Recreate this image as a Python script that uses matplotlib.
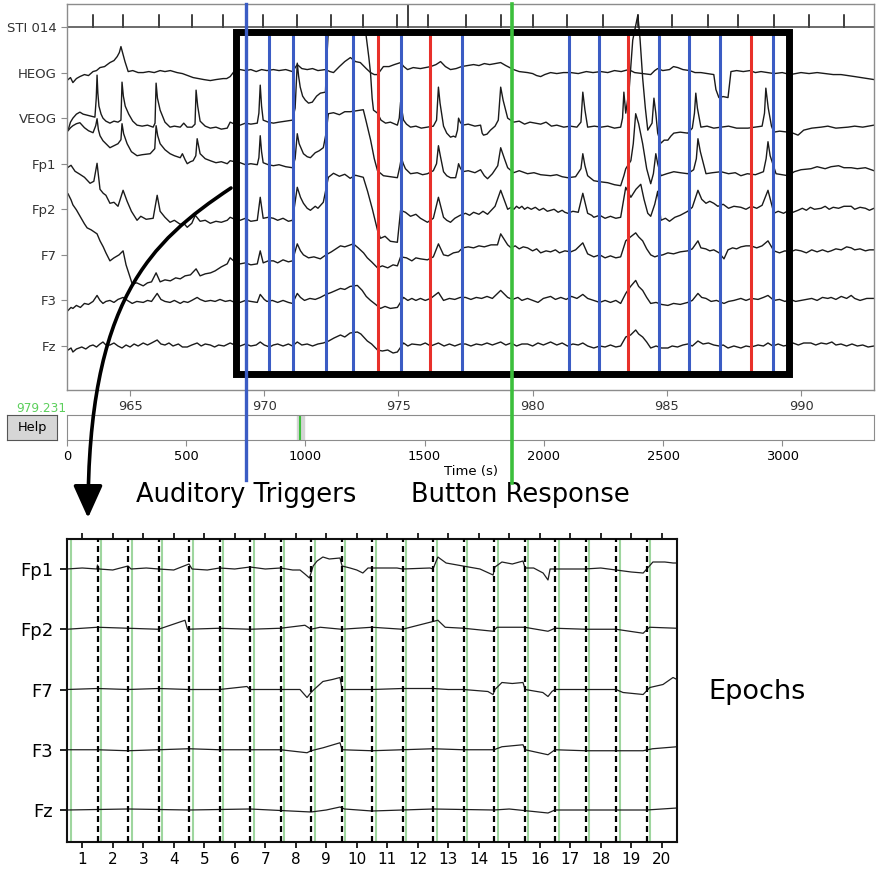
import numpy as np
import matplotlib
matplotlib.use("Agg")
import matplotlib.pyplot as plt
from matplotlib.patches import Rectangle, FancyArrowPatch
from matplotlib.path import Path
from matplotlib.lines import Line2D
import matplotlib.transforms as mtransforms

plt.rcParams['font.family'] = ['DejaVu Sans']

# ------------------------------------------------------------------ data
raw_channels = ['STI 014', 'HEOG', 'VEOG', 'Fp1', 'Fp2', 'F7', 'F3', 'Fz']
raw_xticks = [965, 970, 975, 980, 985, 990]
raw_window = (962.65, 992.72)
scroll_ticks = [0, 500, 1000, 1500, 2000, 2500, 3000]
scroll_total = 3385
current_time = 979.231

sti_events = [963.62, 964.74, 966.08, 967.31, 968.47, 969.96, 971.23, 972.50,
              973.69, 974.93, 975.34, 976.12, 977.50, 978.81, 980.00, 981.27,
              982.61, 983.92, 985.19, 986.53, 987.65, 988.99, 990.30, 991.60]
sti_heights = [12, 12, 12, 12, 12, 12, 12, 12,
               12, 12, 23, 12, 12, 12, 12, 12,
               12, 12, 12, 12, 12, 12, 12, 12]

auditory_triggers = [969.33, 970.19, 971.08, 972.31, 973.32, 975.11, 977.35,
                     981.34, 982.46, 984.70, 985.82, 986.98, 988.96]
other_triggers = [974.22, 976.16, 983.54, 988.13]
button_response = 979.231

# (time s, amplitude) knots for each raw channel, amplitude up = positive
heog = [(962.69, -7), (962.78, -5), (962.87, -10), (963.0, -6), (963.13, -4), (963.3, -2),
        (963.45, -3), (963.62, 1), (963.75, 2), (963.88, 5), (964.05, 6), (964.25, 10),
        (964.4, 12), (964.52, 16), (964.6, 20), (964.66, 26), (964.74, 18), (964.81, 11),
        (964.93, 1), (965.1, 2), (965.3, 0), (965.49, 0), (965.7, 1), (965.9, 0), (966.12, 2),
        (966.3, 1), (966.5, 2), (966.75, 0), (966.95, -1), (967.15, -3), (967.35, -5),
        (967.55, -6), (967.75, -7), (967.99, -8), (968.2, -7), (968.47, -6), (968.6, -6),
        (968.73, -4), (968.9, 2), (969.10, 3), (969.3, 2), (969.5, 3), (969.7, 1), (969.9, 3),
        (970.1, 2), (970.34, 3), (970.55, 2), (970.8, 3), (971.05, 1), (971.23, 8), (971.4, 4),
        (971.60, 3), (971.8, 4), (972.0, 2), (972.28, 3), (972.45, 1), (972.58, 0), (972.8, 6),
        (973.0, 11), (973.21, 15), (973.4, 11), (973.58, 10), (973.8, 4), (973.96, 0),
        (974.1, -2), (974.22, -2), (974.44, 6), (974.65, 6), (974.85, 8), (975.08, 10),
        (975.2, 6), (975.34, 3), (975.55, 5), (975.82, 4), (976.0, 5), (976.2, 6), (976.4, 8),
        (976.57, 11), (976.75, 6), (976.94, 3), (977.15, 4), (977.35, 6), (977.58, 7),
        (977.8, 8), (978.0, 7), (978.2, 9), (978.4, 8), (978.6, 9), (978.81, 10), (979.0, 7),
        (979.29, 3), (979.5, 1), (979.81, 0), (980.0, -1), (980.15, -3), (980.30, -4),
        (980.45, -2), (980.67, 0), (980.9, -1), (981.15, 0), (981.42, 0), (981.7, -1),
        (982.0, 1), (982.25, 0), (982.54, 1), (982.8, 0), (983.05, 2), (983.3, 1), (983.58, 3),
        (983.8, 0), (984.1, -1), (984.40, -2), (984.55, 2), (984.66, 4), (984.85, 2),
        (985.1, 3), (985.25, 6), (985.41, 5), (985.6, 3), (985.85, 2), (986.05, 0),
        (986.27, 0), (986.5, -1), (986.75, -2), (986.83, -17), (986.94, -25), (987.1, -24),
        (987.28, -25), (987.39, 1), (987.6, 2), (987.85, 1), (988.1, 2), (988.3, 0),
        (988.51, 1), (988.75, 0), (989.0, -1), (989.3, 0), (989.6, -2), (990.00, 0),
        (990.3, -1), (990.6, 0), (990.9, -1), (991.2, -2), (991.49, -2), (991.75, -3),
        (992.0, -4), (992.24, -5), (992.5, -6), (992.72, -7)]

veog = [(962.69, -12), (962.78, -4), (962.87, 0), (963.0, 4), (963.13, 6), (963.25, 4),
        (963.40, 3), (963.55, 2), (963.69, 1), (963.74, 20), (963.77, 43), (963.80, 25),
        (963.84, 12), (963.92, 4), (963.99, 0), (964.1, -3), (964.25, -5), (964.4, -3),
        (964.55, -4), (964.66, -2), (964.70, 36), (964.75, 22), (964.82, 12), (964.95, 4),
        (965.1, -3), (965.26, -7), (965.45, -8), (965.65, -7), (965.86, -9), (965.93, -5),
        (965.97, 35), (966.02, 20), (966.12, 8), (966.3, -4), (966.49, -9), (966.65, -8),
        (966.87, -9), (967.00, -5), (967.13, -9), (967.31, -9), (967.42, -6), (967.46, 28),
        (967.52, 12), (967.61, -3), (967.8, -8), (967.99, -10), (968.2, -9), (968.4, -11),
        (968.62, -10), (968.73, -4), (968.9, -6), (969.10, -7), (969.3, -5), (969.5, -6),
        (969.74, -5), (969.80, 5), (969.85, 33), (969.90, 12), (969.96, -2), (970.15, -4),
        (970.34, -5), (970.55, -4), (970.8, -3), (971.05, -2), (971.15, 10), (971.23, 55),
        (971.28, 42), (971.34, 31), (971.43, 22), (971.53, 18), (971.65, 15), (971.79, 16),
        (971.95, 22), (972.09, 25), (972.28, 26), (972.33, 60), (972.39, 88), (973.77, 88),
        (973.90, 60), (973.96, 45), (974.02, 20), (974.07, 8), (974.22, 5), (974.35, -2),
        (974.52, -5), (974.7, -4), (974.96, -7), (975.03, 0), (975.08, 16), (975.13, 8),
        (975.19, -2), (975.3, -6), (975.45, -9), (975.65, -8), (975.85, -10), (976.08, -9),
        (976.3, -8), (976.42, -2), (976.49, 31), (976.55, 15), (976.68, -8), (976.8, -15),
        (976.94, -19), (977.05, -18), (977.13, -19), (977.2, -12), (977.24, 0), (977.3, -4),
        (977.39, -7), (977.6, -6), (977.85, -8), (978.06, -7), (978.12, -15), (978.17, -17),
        (978.3, -16), (978.43, -12), (978.6, -8), (978.72, -2), (978.81, 31), (978.9, 18),
        (979.07, 0), (979.29, -4), (979.5, -3), (979.7, -6), (979.9, -4), (980.1, -5),
        (980.30, -6), (980.5, -4), (980.7, -8), (980.9, -7), (981.16, -9), (981.4, -8),
        (981.65, -9), (981.80, -4), (981.87, 26), (981.95, 8), (982.05, -9), (982.3, -8),
        (982.55, -9), (982.8, -8), (983.05, -10), (983.28, -9), (983.35, 0), (983.40, 26),
        (983.47, 5), (983.6, 30), (983.73, 78), (983.92, 103), (984.0, 80), (984.10, 40),
        (984.2, 10), (984.29, -12), (984.45, -5), (984.52, 20), (984.59, 5), (984.66, -15),
        (984.78, -25), (984.9, -22), (985.04, -22), (985.15, -18), (985.26, -15), (985.5, -14),
        (985.78, -15), (985.95, -10), (986.03, 5), (986.08, 25), (986.14, 10), (986.27, -9),
        (986.5, -8), (986.75, -10), (987.02, -9), (987.3, -8), (987.6, -10), (988.02, -10),
        (988.3, -9), (988.55, -8), (988.64, 5), (988.69, 30), (988.78, 10), (988.90, -8),
        (988.99, -14), (989.2, -13), (989.52, -14), (989.7, -15), (989.89, -17), (990.1, -12),
        (990.4, -10), (990.75, -9), (991.0, -8), (991.3, -10), (991.75, -9), (992.0, -8),
        (992.3, -9), (992.72, -7)]

fp1 = [(962.69, 33), (962.78, 36), (962.87, 38), (963.0, 40), (963.13, 41), (963.3, 36),
       (963.45, 33), (963.62, 31), (963.72, 38), (963.77, 45), (963.82, 34), (963.88, 28),
       (963.99, 23), (964.1, 20), (964.25, 16), (964.4, 18), (964.55, 20), (964.66, 24),
       (964.70, 40), (964.76, 30), (964.89, 20), (965.05, 12), (965.26, 8), (965.45, 9),
       (965.75, 10), (965.92, 15), (965.97, 38), (966.03, 28), (966.12, 20), (966.3, 14),
       (966.49, 10), (966.65, 8), (966.87, 6), (966.95, 10), (967.05, 4), (967.13, 0),
       (967.25, 2), (967.35, 3), (967.45, 8), (967.50, 25), (967.55, 18), (967.61, 10),
       (967.8, 5), (967.99, 3), (968.2, 1), (968.4, 2), (968.62, 0), (968.73, 3), (968.9, 2),
       (969.10, 1), (969.3, -1), (969.5, 0), (969.74, -1), (969.80, 6), (969.85, 28),
       (969.90, 12), (969.96, 1), (970.15, -1), (970.34, -2), (970.55, -1), (970.8, -3),
       (971.05, -4), (971.15, 5), (971.23, 30), (971.3, 20), (971.46, 10), (971.6, 7),
       (971.72, 6), (971.9, 11), (972.05, 13), (972.20, 16), (972.30, 30), (972.39, 50),
       (972.58, 51), (972.8, 49), (973.0, 52), (973.21, 52), (973.45, 53), (973.69, 54),
       (973.80, 42), (973.96, 24), (974.1, 5), (974.22, -7), (974.44, -12), (974.7, -13),
       (974.96, -14), (975.05, -3), (975.11, 6), (975.18, 0), (975.26, -5), (975.45, -10),
       (975.7, -9), (975.9, -11), (976.08, -10), (976.3, -7), (976.42, 0), (976.49, 18),
       (976.56, 8), (976.68, -8), (976.8, -12), (976.94, -14), (977.13, -14), (977.2, -6),
       (977.24, 0), (977.3, -4), (977.39, -8), (977.6, -7), (977.85, -9), (978.06, -6),
       (978.2, -12), (978.32, -15), (978.5, -10), (978.7, -2), (978.81, 16), (978.95, 5),
       (979.07, -4), (979.29, -9), (979.5, -7), (979.81, -10), (980.05, -9), (980.3, -11),
       (980.67, -12), (980.9, -11), (981.1, -13), (981.31, -14), (981.6, -13), (981.80, -5),
       (981.87, 10), (981.95, -2), (982.05, -12), (982.28, -17), (982.5, -18), (982.8, -19),
       (983.05, -21), (983.28, -22), (983.40, -12), (983.47, -5), (983.66, 3), (983.75, 20),
       (983.84, 50), (983.95, 40), (984.10, 20), (984.25, -5), (984.40, -20), (984.5, -10),
       (984.59, 10), (984.66, 0), (984.78, -12), (985.0, -10), (985.26, -8), (985.5, -9),
       (985.78, -10), (986.0, -6), (986.10, 5), (986.16, 25), (986.25, 12), (986.46, -10),
       (986.7, -9), (987.02, -8), (987.3, -10), (987.55, -9), (987.76, -12), (988.0, -10),
       (988.3, -11), (988.6, -8), (988.70, 5), (988.77, 22), (988.85, 8), (989.07, -10),
       (989.3, -11), (989.52, -12), (989.75, -8), (990.0, -6), (990.37, -5), (990.6, -3),
       (990.9, -5), (991.12, -3), (991.4, -2), (991.6, -4), (991.87, -4), (992.1, -5),
       (992.4, -4), (992.72, -7)]

fp2 = [(962.69, 42), (962.8, 44), (962.95, 38), (963.13, 35), (963.3, 32), (963.51, 26),
       (963.65, 28), (963.77, 46), (963.88, 20), (964.0, 16), (964.1, 14), (964.25, 6),
       (964.4, 7), (964.55, 3), (964.74, 19), (964.89, 8), (965.05, -2), (965.26, -11),
       (965.4, -7), (965.6, -10), (965.86, -9), (966.01, 14), (966.12, -2), (966.3, -8),
       (966.49, -13), (966.65, -11), (966.87, -15), (967.0, -14), (967.13, -18), (967.3, -14),
       (967.43, -6), (967.61, -12), (967.8, -11), (967.99, -14), (968.2, -12), (968.4, -13),
       (968.62, -11), (968.73, -8), (968.9, -10), (969.10, -11), (969.3, -9), (969.5, -12),
       (969.74, -11), (969.85, 12), (969.96, -9), (970.15, -8), (970.34, -9), (970.5, -11),
       (970.7, -9), (970.9, -12), (971.05, -11), (971.23, 22), (971.35, 12), (971.46, 6),
       (971.6, 1), (971.72, -1), (971.9, 3), (972.0, 1), (972.20, 7), (972.39, 32),
       (972.58, 36), (972.8, 33), (973.0, 35), (973.2, 31), (973.4, 34), (973.69, 32),
       (973.85, 18), (974.03, 0), (974.22, -21), (974.33, -29), (974.5, -27), (974.7, -32),
       (974.96, -33), (975.08, -1), (975.26, -3), (975.45, -7), (975.65, -5), (975.82, -9),
       (976.08, -13), (976.3, -9), (976.49, 12), (976.68, -8), (976.8, -11), (976.94, -13),
       (977.1, -9), (977.3, -6), (977.5, -4), (977.65, -6), (977.80, -3), (978.0, -5),
       (978.15, -2), (978.32, -5), (978.6, 3), (978.81, 19), (979.07, 0), (979.2, 2),
       (979.3, 0), (979.4, 3), (979.5, 1), (979.6, 3), (979.7, 0), (979.81, 2),
       (979.95, 0), (980.1, 2), (980.25, -1), (980.4, 1), (980.55, -2), (980.67, -1),
       (980.8, 0), (980.95, -3), (981.1, -1), (981.2, -3), (981.31, -4), (981.5, -2),
       (981.7, -3), (981.87, 16), (982.05, -4), (982.2, -6), (982.28, -8), (982.5, -6),
       (982.7, -9), (982.9, -7), (983.1, -9), (983.28, -8), (983.47, 22), (983.66, 12),
       (983.85, 20), (984.03, 25), (984.15, 10), (984.29, -4), (984.40, -7), (984.55, 5),
       (984.66, 18), (984.78, -11), (984.95, -9), (985.1, -12), (985.3, -8), (985.5, -6),
       (985.78, -2), (985.95, 2), (986.16, 19), (986.3, 10), (986.46, 6), (986.6, 8),
       (986.75, 6), (986.9, 3), (987.1, 5), (987.3, 1), (987.5, 3), (987.76, 2), (987.95, 0),
       (988.15, 3), (988.35, 1), (988.55, 4), (988.77, 19), (988.99, -4), (989.15, -2),
       (989.35, -4), (989.55, -1), (989.7, -3), (989.89, -1), (990.05, 1), (990.2, -1),
       (990.35, 2), (990.5, 0), (990.75, 1), (990.9, 3), (991.05, 0), (991.2, 2), (991.4, 1),
       (991.6, 3), (991.87, 3), (992.0, 0), (992.2, 2), (992.4, 1), (992.55, -1), (992.72, 1)]

f7 = [(962.69, 61), (962.8, 55), (962.87, 50), (963.0, 45), (963.15, 38), (963.3, 31),
      (963.40, 27), (963.55, 25), (963.77, 21), (963.88, 14), (964.0, 8), (964.1, 2),
      (964.25, -6), (964.4, -3), (964.59, 0), (964.74, 4), (964.85, -10), (965.08, -29),
      (965.25, -28), (965.49, -31), (965.65, -28), (965.8, -27), (965.97, -18), (966.12, -27),
      (966.3, -25), (966.5, -26), (966.7, -23), (966.87, -24), (967.05, -21), (967.25, -20),
      (967.46, -14), (967.61, -21), (967.8, -19), (968.0, -18), (968.17, -16), (968.4, -12),
      (968.62, -9), (968.73, -3), (968.9, -7), (969.10, -9), (969.3, -8), (969.5, -10),
      (969.74, -9), (969.85, 4), (969.96, -8), (970.15, -6), (970.34, -6), (970.5, -8),
      (970.7, -5), (970.9, -7), (971.05, -6), (971.23, 11), (971.35, 4), (971.46, 0),
      (971.65, -3), (971.85, -2), (972.09, -4), (972.3, 0), (972.5, 3), (972.84, 9),
      (973.0, 8), (973.32, 11), (973.5, 7), (973.7, 2), (973.84, -3), (974.0, -7),
      (974.22, -13), (974.4, -11), (974.6, -13), (974.8, -10), (974.96, -11), (975.08, -2),
      (975.3, -3), (975.5, -6), (975.65, -3), (975.82, -4), (976.08, -5), (976.3, -2),
      (976.49, 11), (976.68, 0), (976.85, -1), (977.05, 2), (977.24, 3), (977.39, 7),
      (977.6, 8), (977.8, 7), (978.0, 9), (978.2, 8), (978.45, 10), (978.69, 10),
      (978.81, 21), (979.07, 10), (979.2, 7), (979.35, 9), (979.5, 6), (979.65, 8),
      (979.81, 7), (980.0, 4), (980.15, 6), (980.3, 2), (980.5, 4), (980.67, 3), (980.85, 5),
      (981.0, 2), (981.2, 4), (981.42, 3), (981.6, 5), (981.87, 12), (982.05, 1),
      (982.28, -2), (982.5, 0), (982.7, -3), (982.9, -1), (983.1, -3), (983.28, -2),
      (983.47, 14), (983.65, 18), (983.84, 22), (983.95, 18), (984.10, 14), (984.25, 6),
      (984.40, 0), (984.55, -2), (984.66, -1), (984.85, 0), (985.04, 2), (985.25, 1),
      (985.5, 3), (985.78, 4), (985.95, 6), (986.16, 14), (986.27, 7), (986.45, 6),
      (986.6, 4), (986.75, 5), (986.95, 2), (987.13, -4), (987.28, 5), (987.45, 7),
      (987.6, 6), (987.76, 8), (987.95, 9), (988.13, 9), (988.35, 7), (988.55, 9),
      (988.77, 14), (988.99, 4), (989.2, 2), (989.4, 4), (989.6, 3), (989.8, 5), (990.00, 4),
      (990.2, 2), (990.4, 5), (990.6, 3), (990.8, 5), (991.0, 3), (991.12, 4), (991.3, 6),
      (991.5, 5), (991.7, 8), (991.87, 7), (992.0, 5), (992.2, 6), (992.4, 4), (992.55, 5),
      (992.72, 5)]

f3 = [(962.69, -10), (962.8, -7), (962.87, -8), (963.0, -5), (963.15, -7), (963.3, -3),
      (963.45, -4), (963.62, -1), (963.77, 5), (963.88, 0), (963.99, -3), (964.1, -1),
      (964.25, 0), (964.4, -2), (964.55, 1), (964.74, 3), (964.9, 0), (965.08, -3),
      (965.25, -1), (965.49, -2), (965.65, 0), (965.8, -1), (966.01, 7), (966.15, 1),
      (966.3, -1), (966.49, -2), (966.65, 0), (966.87, -3), (967.0, -1), (967.15, -2),
      (967.3, 0), (967.50, 3), (967.61, 1), (967.8, -1), (968.0, 0), (968.17, -1),
      (968.35, 1), (968.55, -1), (968.73, 0), (968.9, -2), (969.10, -2), (969.3, 0),
      (969.5, -1), (969.74, -2), (969.85, 6), (970.0, 1), (970.10, -1), (970.3, 0),
      (970.5, -2), (970.7, 0), (970.9, -2), (971.05, -3), (971.23, 7), (971.35, 3),
      (971.50, 0), (971.7, 2), (971.9, 1), (972.09, 3), (972.3, 6), (972.5, 8), (972.84, 12),
      (973.0, 11), (973.2, 14), (973.47, 15), (973.65, 10), (973.8, 4), (973.96, 0),
      (974.15, -4), (974.33, -8), (974.5, -6), (974.7, -8), (974.96, -7), (975.19, 3),
      (975.35, 0), (975.5, 2), (975.65, 0), (975.82, 2), (976.0, 0), (976.2, 2), (976.49, 8),
      (976.68, 0), (976.9, 2), (977.1, 1), (977.3, 3), (977.50, 3), (977.7, 1), (977.9, 3),
      (978.1, 2), (978.3, 4), (978.5, 2), (978.81, 10), (979.07, 3), (979.25, 1),
      (979.45, 3), (979.6, 0), (979.81, 2), (980.0, 0), (980.2, -2), (980.4, 2), (980.67, 4),
      (980.85, 1), (981.05, 3), (981.25, 1), (981.45, 4), (981.65, 2), (981.87, 6),
      (982.05, 2), (982.28, 0), (982.5, -2), (982.7, 0), (982.9, -2), (983.1, 0),
      (983.28, -3), (983.47, 7), (983.65, 14), (983.84, 20), (983.95, 14), (984.10, 10),
      (984.25, 3), (984.40, -3), (984.6, -2), (984.8, -4), (985.04, -5), (985.25, -3),
      (985.5, -4), (985.78, -2), (985.95, 0), (986.16, 7), (986.3, 3), (986.46, 2),
      (986.65, -1), (986.85, 0), (987.13, -3), (987.3, -1), (987.5, 0), (987.76, 2),
      (987.95, 0), (988.15, 2), (988.4, 1), (988.6, 3), (988.77, 5), (988.99, 0), (989.2, 1),
      (989.4, -1), (989.6, 1), (989.8, -1), (990.00, 0), (990.2, 1), (990.4, 2), (990.6, 0),
      (990.8, 3), (991.0, 2), (991.12, 3), (991.3, 1), (991.5, 4), (991.7, 2), (991.87, 5),
      (992.0, 2), (992.2, 0), (992.45, 2), (992.72, 2)]

fz = [(962.69, -4), (962.80, -2), (962.87, -6), (963.0, -3), (963.2, -1), (963.35, -3),
      (963.5, 0), (963.62, 1), (963.75, -1), (963.88, 2), (963.99, 4), (964.1, 1),
      (964.25, 1), (964.4, 3), (964.55, 0), (964.70, -2), (964.85, 1), (965.0, -1),
      (965.15, 2), (965.3, 0), (965.49, 3), (965.65, 1), (965.8, 3), (966.01, 6),
      (966.15, 2), (966.30, 1), (966.45, 3), (966.6, 0), (966.8, 2), (966.95, -1),
      (967.13, -1), (967.3, 1), (967.50, 3), (967.65, 0), (967.8, 2), (967.99, 1),
      (968.15, -1), (968.3, 1), (968.5, 0), (968.73, 3), (968.9, 1), (969.10, 0), (969.3, 2),
      (969.5, 0), (969.7, 1), (969.85, 4), (970.0, 1), (970.2, -1), (970.34, 1), (970.5, 2),
      (970.7, 0), (970.9, 2), (971.05, 0), (971.23, 4), (971.4, 1), (971.6, 2), (971.8, 0),
      (972.0, 2), (972.20, 3), (972.4, 5), (972.6, 8), (972.84, 11), (973.0, 9), (973.2, 13),
      (973.47, 14), (973.6, 12), (973.84, 5), (974.0, 2), (974.22, -4), (974.4, -5),
      (974.6, -4), (974.8, -7), (974.96, -6), (975.19, 3), (975.35, 0), (975.5, 2),
      (975.82, 1), (976.0, 3), (976.2, 0), (976.49, 3), (976.7, 0), (976.9, 2), (977.1, 0),
      (977.3, 2), (977.50, 2), (977.7, 0), (977.9, 2), (978.1, 1), (978.3, 3), (978.5, 1),
      (978.81, 4), (979.0, 1), (979.2, 3), (979.4, 0), (979.6, 2), (979.81, 2), (980.0, 0),
      (980.2, 3), (980.4, 1), (980.67, 4), (980.9, 1), (981.1, 3), (981.3, 0), (981.5, 2),
      (981.7, 1), (981.87, 3), (982.05, 0), (982.28, -2), (982.5, 0), (982.7, -1),
      (982.9, 1), (983.1, -1), (983.28, 0), (983.47, 9), (983.65, 11), (983.84, 16),
      (983.95, 12), (984.10, 9), (984.25, 4), (984.40, -2), (984.6, 0), (984.8, -2),
      (985.04, -2), (985.2, 0), (985.4, -1), (985.6, 1), (985.78, 2), (985.95, 0),
      (986.16, 5), (986.35, 2), (986.55, 3), (986.75, 1), (986.95, 0), (987.1, 1),
      (987.28, -2), (987.5, 0), (987.76, -2), (987.95, 0), (988.15, -1), (988.4, 1),
      (988.6, 0), (988.77, 3), (988.95, 0), (989.15, 2), (989.35, 0), (989.52, 1),
      (989.7, 3), (989.9, 1), (990.1, 3), (990.37, 3), (990.55, 1), (990.75, 3),
      (990.95, 2), (991.15, 4), (991.3, 1), (991.49, 2), (991.7, 0), (991.9, 2), (992.1, 0),
      (992.3, 1), (992.5, -1), (992.72, 0)]

raw_traces = [heog, veog, fp1, fp2, f7, f3, fz]

# epochs panel
epoch_channels = ['Fp1', 'Fp2', 'F7', 'F3', 'Fz']
n_epochs = 20
epoch_labels = [str(i) for i in range(1, 21)]
epoch_tmin, epoch_tmax = -0.2, 1.5

# (epoch position, amplitude) knots
ep_fp1 = [(0, 0), (0.5, 1), (0.98, 0), (1.0, 4), (1.05, 0), (1.5, -1), (2.0, 3), (2.1, 0),
          (2.6, 1), (3.0, 0), (3.5, -1), (4.0, 5), (4.1, 0), (4.6, -1), (5.0, 1), (5.5, 0),
          (6.0, 2), (6.5, 0), (7.0, 1), (7.4, -1), (7.64, -1), (7.8, -5), (7.95, -9), (8.0, -4),
          (8.07, 3), (8.2, 8), (8.39, 12), (8.6, 10), (8.95, 11), (9.02, 3), (9.28, 1), (9.5, -1),
          (9.70, -4), (9.87, 1), (10.0, 1), (10.82, 1), (11.0, 0), (11.9, 1), (12.0, 0),
          (12.16, 12), (12.43, 6), (12.98, 3), (13.54, 0), (13.97, -6), (14.03, 2), (14.26, 7),
          (14.6, 5), (14.95, 8), (15.02, 1), (15.3, 1), (15.61, -4), (15.77, -11), (15.84, 0),
          (16.0, 0), (16.98, 0), (17.5, 1), (18.0, -1), (18.5, -3), (18.89, -4), (18.98, -1),
          (19.21, 7), (19.6, 7), (19.87, 6), (20, 6)]
ep_fp2 = [(0, 0), (1, 2), (2, 1), (3, 0), (3.87, 9), (3.95, 0), (5, 1), (6, 0), (7, 1),
          (7.8, 4), (8, 0), (8.3, 2), (9, 0), (10, 2), (11, 0), (12.16, 9), (12.4, 2), (13, 1),
          (13.97, -2), (14.1, 2), (15, 2), (15.77, -2), (16, 1), (17, 0), (18, 0), (18.89, -4),
          (19.1, 2), (20, 1)]
ep_f7 = [(0, 0), (1, 1), (2, 0), (3, 1), (4, 0), (5, 0), (5.9, 3), (6.0, 0), (7, 0), (7.64, 0),
         (7.87, -8), (8.0, -3), (8.1, 0), (8.39, 8), (8.7, 10), (8.95, 12), (9.02, 0), (10, 0),
         (11, 1), (12, 1), (12.5, 0), (13, 0), (13.8, -2), (13.97, -5), (14.03, 0), (14.26, 7),
         (14.6, 6), (14.95, 7), (15.02, 0), (15.6, -3), (15.77, -7), (15.9, -2), (16, 0),
         (17, 0), (18, 0), (18.23, -3), (18.89, -5), (19.11, 2), (19.54, 5), (19.87, 12),
         (20, 10)]
ep_f3 = [(0, 0), (1, 0), (2, -1), (3, 0), (4, 1), (5, 0), (6, 0), (7, 0), (7.87, -3), (8.0, -1),
         (8.4, 2), (8.95, 7), (9.02, 0), (10, -1), (11, 0), (12, 1), (13, 0), (14, 0),
         (14.26, 3), (14.95, 5), (15.02, 0), (15.77, -5), (16, 0), (17, -1), (18, -1),
         (18.89, -1), (19.2, 1), (20, 3)]
ep_fz = [(0, 0), (2, 1), (4, 0), (6, 1), (8, -2), (8.5, 0), (8.95, 3), (9.1, 1), (10, -1),
         (12, 1), (14, 0), (14.5, 1), (15.77, -3), (16, 0), (18, 0), (19, 0), (20, 2)]
epoch_traces = [ep_fp1, ep_fp2, ep_f7, ep_f3, ep_fz]

# ------------------------------------------------------------------ colours
BLUE = '#3b5cc4'
RED = '#e8302a'
GREEN = '#3cbf3c'
GRAY = '#8c8c8c'

# ------------------------------------------------------------------ figure
W, H = 876, 871
fig = plt.figure(figsize=(W / 100, H / 100), dpi=100)


def frect(x0, y0, x1, y1):
    return [x0 / W, 1 - y1 / H, (x1 - x0) / W, (y1 - y0) / H]


def fp(x, y):
    return (x / W, 1 - y / H)


# ---------------- raw browser axes
ax = fig.add_axes(frect(67, 4, 874, 390))
SP = 45.57
ax.set_xlim(*raw_window)
ax.set_ylim(len(raw_channels) - 1 + 44 / SP, -23 / SP)
for s in ax.spines.values():
    s.set_color(GRAY)
    s.set_linewidth(1.0)
ax.set_yticks(range(len(raw_channels)))
ax.set_yticklabels(raw_channels, fontsize=9.5)
ax.set_xticks(raw_xticks)
ax.set_xticklabels([str(v) for v in raw_xticks], fontsize=9.4)
ax.tick_params(colors='#333333', length=4)
ax.tick_params(axis='both', color=GRAY)

# STI channel
sx, sy = [raw_window[0]], [0.0]
for e, h in zip(sti_events, sti_heights):
    sx += [e, e, e]
    sy += [0.0, -h / SP, 0.0]
sx.append(raw_window[1])
sy.append(0.0)
ax.plot(sx, sy, color='#444444', lw=1.1, zorder=2)

for i, tr in enumerate(raw_traces, start=1):
    t, a = zip(*tr)
    ax.plot(t, i - np.asarray(a) / SP, color='#1a1a1a', lw=1.0, zorder=2)

# trigger lines within the box
box_top, box_bot = 5.5 / SP, 347.5 / SP
ax.vlines(auditory_triggers[1:], box_top, box_bot, color=BLUE, lw=2.2, zorder=3)
ax.vlines(other_triggers, box_top, box_bot, color=RED, lw=2.2, zorder=3)

# black highlight box
fig.add_artist(Rectangle(fp(235.5, 374.5), 553 / W, 342 / H, transform=fig.transFigure,
                         fill=False, ec='black', lw=5.0, zorder=6))

# long lines (auditory trigger / button response)
blend = mtransforms.blended_transform_factory(ax.transData, fig.transFigure)
fig.add_artist(Line2D([auditory_triggers[0]] * 2, [1 - 4 / H, 1 - 480 / H],
                      transform=blend, color=BLUE, lw=2.4, zorder=7))
fig.add_artist(Line2D([button_response] * 2, [1 - 4 / H, 1 - 483 / H],
                      transform=blend, color=GREEN, lw=2.6, zorder=7))

# current time label
fig.text(66 / W, 1 - 408 / H, f'{current_time:.3f}', color='#5ccf5c', ha='right',
         va='center', fontsize=8.7)

# ---------------- scroll bar
sax = fig.add_axes(frect(67, 415, 874, 440))
sax.set_xlim(0, scroll_total)
sax.set_ylim(0, 1)
sax.axvspan(raw_window[0], raw_window[1], color='#d4d4d4', zorder=1)
sax.axvline(current_time, color=GREEN, lw=1.5, zorder=2)
sax.set_yticks([])
sax.set_xticks(scroll_ticks)
sax.set_xticklabels([str(v) for v in scroll_ticks], fontsize=9.4)
sax.tick_params(axis='x', color=GRAY, length=4)
for s in sax.spines.values():
    s.set_color(GRAY)
sax.set_xlabel('Time (s)', fontsize=9.5, labelpad=1)

# help button
hax = fig.add_axes(frect(7, 415, 57, 440))
hax.set_facecolor('#d6d6d6')
hax.set_xticks([])
hax.set_yticks([])
for s in hax.spines.values():
    s.set_color('#555555')
hax.text(0.5, 0.5, 'Help', ha='center', va='center', fontsize=9.3, transform=hax.transAxes)

# annotation labels
fig.text(246 / W, 1 - 495 / H, 'Auditory Triggers', ha='center', va='center', fontsize=18.5)
fig.text(520 / W, 1 - 495 / H, 'Button Response', ha='center', va='center', fontsize=18.5)

# curved arrow
verts = [fp(231, 188), fp(150, 242), fp(88, 300), fp(88, 518)]
path = Path(verts, [Path.MOVETO, Path.CURVE4, Path.CURVE4, Path.CURVE4])
fig.add_artist(FancyArrowPatch(path=path, arrowstyle='-|>,head_length=1.0,head_width=0.45',
                               mutation_scale=20, lw=2.6, color='black',
                               transform=fig.transFigure, zorder=8))

# ---------------- epochs axes
eax = fig.add_axes(frect(67, 539, 677, 842))
ESP = 60.25
eax.set_xlim(0, n_epochs)
eax.set_ylim(len(epoch_channels) - 1 + 32 / ESP, -30 / ESP)
for s in eax.spines.values():
    s.set_color('#111111')
    s.set_linewidth(1.5)
for k in range(1, n_epochs):
    eax.axvline(k, color='black', lw=1.6, linestyle=(0, (2.7, 1.8)), zorder=3)
zero_off = -epoch_tmin / (epoch_tmax - epoch_tmin)
for k in range(n_epochs):
    eax.axvline(k + zero_off, color='#9fd69f', lw=1.5, zorder=1)
for i, tr in enumerate(epoch_traces):
    u, a = zip(*tr)
    eax.plot(u, i - np.asarray(a) / ESP, color='#202020', lw=0.9, zorder=2)
eax.set_yticks(range(len(epoch_channels)))
eax.set_yticklabels(epoch_channels, fontsize=13)
eax.set_xticks(np.arange(n_epochs) + 0.5)
eax.set_xticklabels(epoch_labels, fontsize=11)
eax.tick_params(axis='x', top=True, length=4, width=1.2)
eax.tick_params(axis='y', length=5, width=1.2, pad=5)

fig.text(757 / W, 1 - 692 / H, 'Epochs', ha='center', va='center', fontsize=19.5)

fig.savefig('out.png', dpi=100)
